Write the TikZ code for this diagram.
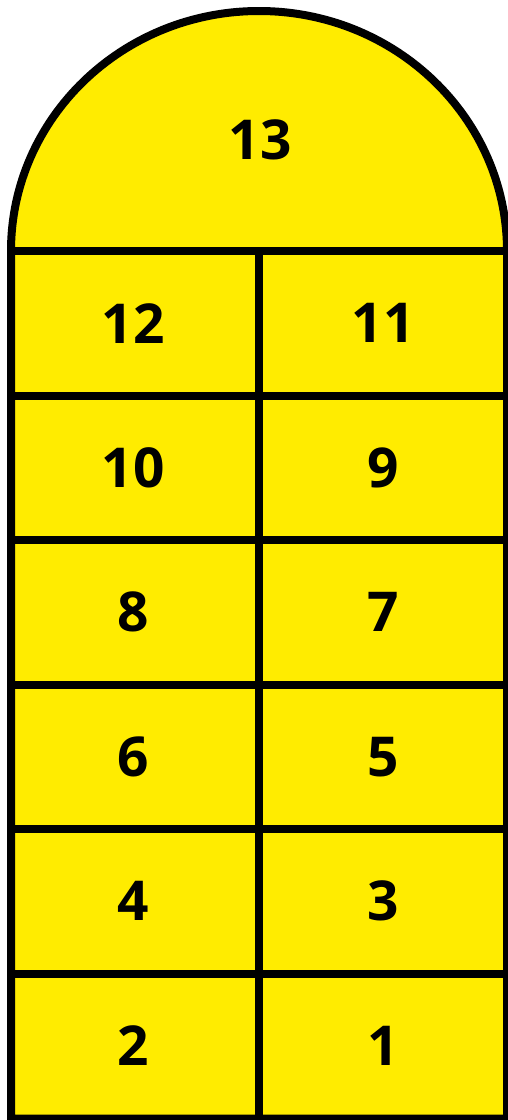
\documentclass[tikz,border=0pt]{standalone}
\usepackage{fontspec}
\setmainfont{Open Sans}
\definecolor{hop}{HTML}{FFEC00}
\begin{document}
\begin{tikzpicture}[x=1pt,y=-1pt,line width=8pt,
  num/.style={font=\fontsize{55}{55}\selectfont\bfseries,inner sep=0pt,anchor=center},
  wall/.style={draw=black,line width=8pt}]
\useasboundingbox (0,0) rectangle (508,1120);
\clip (0,0) rectangle (508,1120);
\filldraw[fill=hop,draw=black] (11,251) arc[start angle=180,end angle=360,x radius=248,y radius=240] -- (507,1118.5) -- (11,1118.5) -- cycle;
\foreach \k in {0,...,5}{
  \draw[wall] (11,{251+144.5*\k}) -- (507,{251+144.5*\k});
}
\draw[wall] (259,251) -- (259,1118.5);
\node[num] (n13) at (260,140) {13};
\node[num] (n12) at (133,323.25) {12};
\node[num] (n11) at (383,323.25) {11};
\node[num] (n10) at (133,467.75) {10};
\node[num] (n9) at (383,467.75) {9};
\node[num] (n8) at (133,612.25) {8};
\node[num] (n7) at (383,612.25) {7};
\node[num] (n6) at (133,756.75) {6};
\node[num] (n5) at (383,756.75) {5};
\node[num] (n4) at (133,901.25) {4};
\node[num] (n3) at (383,901.25) {3};
\node[num] (n2) at (133,1045.75) {2};
\node[num] (n1) at (383,1045.75) {1};
\end{tikzpicture}
\end{document}
